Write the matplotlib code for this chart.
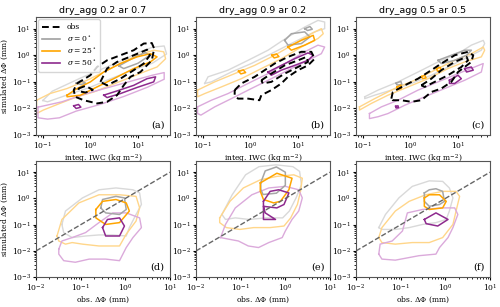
import numpy as np
import matplotlib
matplotlib.use("Agg")
import matplotlib.pyplot as plt

plt.rcParams["font.family"] = "DejaVu Serif"
plt.rcParams["mathtext.fontset"] = "dejavuserif"

# contour outlines, as (log10 x, log10 y) points
titles = ["dry_agg 0.2 ar 0.7", "dry_agg 0.9 ar 0.2", "dry_agg 0.5 ar 0.5"]
letters = ["(a)", "(b)", "(c)", "(d)", "(e)", "(f)"]
legend_labels = ["obs", r"$\sigma = 0^\circ$", r"$\sigma = 25^\circ$", r"$\sigma = 50^\circ$"]

# ---- panel (a)
a_obs = [(-0.28, -1.06), (0.0, -0.75), (0.14, -0.44), (0.35, -0.19), (0.63, 0.0), (0.91, 0.19),
         (1.12, 0.44), (1.29, 0.46), (1.34, 0.25), (1.29, -0.19), (1.05, -0.63), (0.84, -0.81),
         (0.7, -1.13), (0.56, -1.5), (0.35, -1.75), (0.14, -1.81), (-0.14, -1.69), (-0.32, -1.56),
         (-0.35, -1.31)]
a_obs_in = [(0.21, -1.0), (0.35, -0.5), (0.56, -0.25), (0.91, 0.0), (1.19, 0.21), (1.25, 0.0),
            (1.12, -0.31), (0.91, -0.56), (0.63, -0.88), (0.35, -1.13)]
a_obs_sm = [(-0.25, -1.25), (-0.1, -1.15), (0.05, -1.3), (-0.1, -1.4), (-0.25, -1.35)]
a_g_out = [(-1.0, -1.7), (-0.8, -1.35), (-0.5, -1.1), (-0.2, -0.85), (0.2, -0.55), (0.6, -0.25),
           (1.0, 0.1), (1.3, 0.3), (1.55, 0.35), (1.6, 0.05), (1.3, -0.3), (0.9, -0.55),
           (0.4, -0.9), (0.0, -1.2), (-0.5, -1.5), (-0.9, -1.75)]
a_g_in = [(0.6, -0.4), (0.9, -0.1), (1.15, 0.1), (1.25, 0.0), (1.0, -0.3), (0.7, -0.5)]
a_g_sm = [(-0.3, -1.05), (-0.2, -0.95), (-0.1, -1.05), (-0.2, -1.1)]
a_o_out = [(-1.13, -1.69), (-0.85, -1.44), (-0.49, -1.25), (-0.07, -0.94), (0.28, -0.63),
           (0.63, -0.31), (0.98, 0.0), (1.33, 0.19), (1.54, 0.13), (1.58, -0.13), (1.4, -0.44),
           (1.12, -0.63), (0.77, -0.88), (0.42, -1.13), (0.07, -1.38), (-0.28, -1.56),
           (-0.64, -1.81), (-0.99, -2.06), (-1.13, -2.19)]
a_o_in = [(-0.49, -1.5), (-0.28, -1.25), (0.0, -1.0), (0.28, -0.63), (0.63, -0.31), (0.98, -0.06),
          (1.26, 0.06), (1.4, -0.06), (1.26, -0.25), (0.91, -0.5), (0.49, -0.88), (0.14, -1.19),
          (-0.21, -1.5), (-0.49, -1.56)]
a_p_out = [(-1.1, -1.95), (-0.6, -1.75), (-0.1, -1.45), (0.4, -1.2), (0.9, -0.95), (1.3, -0.75),
           (1.55, -0.65), (1.55, -0.9), (1.2, -1.2), (0.7, -1.55), (0.2, -1.85), (-0.3, -2.1),
           (-0.65, -2.35), (-0.9, -2.4), (-1.1, -2.35)]
a_p_in = [(0.28, -1.5), (0.56, -1.34), (0.91, -1.13), (1.19, -0.88), (1.37, -0.81), (1.33, -1.0),
          (0.98, -1.21), (0.63, -1.44), (0.35, -1.59)]
a_p_sm = [(-0.35, -1.9), (-0.25, -1.85), (-0.2, -1.95), (-0.3, -2.0)]

# ---- panel (b)
b_obs = [(-0.33, -1.31), (-0.19, -1.06), (0.09, -0.81), (0.30, -0.56), (0.51, -0.31), (0.79, -0.06),
         (1.07, 0.13), (1.28, 0.13), (1.35, -0.13), (1.21, -0.38), (1.0, -0.56), (0.79, -0.81),
         (0.65, -1.06), (0.44, -1.31), (0.23, -1.5), (0.19, -1.69), (-0.05, -1.63), (-0.26, -1.63),
         (-0.33, -1.5)]
b_obs_in = [(0.23, -0.94), (0.44, -0.69), (0.72, -0.38), (1.0, -0.19), (1.18, -0.06), (1.21, -0.25),
            (1.0, -0.44), (0.72, -0.69), (0.44, -1.0), (0.26, -1.06)]
b_g_out = [(-0.96, -1.06), (-0.89, -0.81), (-0.47, -0.56), (-0.05, -0.19), (0.37, 0.19), (0.79, 0.69),
           (1.14, 1.06), (1.42, 1.31), (1.56, 1.25), (1.56, 1.0), (1.35, 0.88), (1.07, 0.63),
           (0.79, 0.38), (0.44, 0.06), (0.02, -0.31), (-0.40, -0.63), (-0.82, -1.0)]
b_g_in = [(0.72, 0.56), (0.86, 0.81), (1.14, 0.88), (1.25, 0.69), (1.07, 0.44), (0.79, 0.38)]
b_g_sm = [(1.14, 1.0), (1.25, 1.08), (1.3, 0.98), (1.2, 0.93)]
b_o_out = [(-1.11, -1.31), (-0.75, -1.0), (-0.33, -0.69), (0.09, -0.38), (0.51, 0.0), (0.93, 0.44),
           (1.28, 0.81), (1.49, 1.0), (1.53, 0.81), (1.42, 0.63), (1.07, 0.31), (0.65, -0.13),
           (0.23, -0.5), (-0.19, -0.88), (-0.61, -1.19), (-0.96, -1.44), (-1.11, -1.56)]
b_o_in = [(0.79, 0.31), (1.07, 0.56), (1.32, 0.75), (1.35, 0.56), (1.14, 0.38), (0.86, 0.19)]
b_o_sm = [(0.45, 0.0), (0.55, 0.05), (0.6, -0.05), (0.5, -0.1)]
b_o_sm2 = [(-0.25, -0.6), (-0.15, -0.55), (-0.1, -0.65), (-0.2, -0.7)]
b_p_out = [(-1.11, -1.94), (-0.82, -1.69), (-0.47, -1.44), (-0.05, -1.06), (0.37, -0.69),
           (0.79, -0.25), (1.14, 0.13), (1.42, 0.38), (1.56, 0.31), (1.49, 0.06), (1.21, -0.19),
           (0.86, -0.5), (0.44, -0.88), (0.02, -1.25), (-0.40, -1.63), (-0.75, -1.94),
           (-1.04, -2.25), (-1.11, -2.19)]
b_p_in = [(0.37, -0.63), (0.65, -0.38), (0.93, -0.13), (1.21, 0.09), (1.32, 0.0), (1.21, -0.19),
          (0.93, -0.38), (0.65, -0.56), (0.44, -0.75)]

# ---- panel (c)
c_obs = [(-0.40, -1.63), (-0.37, -1.38), (-0.12, -1.13), (0.16, -0.88), (0.44, -0.56), (0.65, -0.31),
         (0.93, 0.0), (1.21, 0.13), (1.32, 0.0), (1.28, -0.25), (1.14, -0.44), (1.0, -0.63),
         (0.86, -1.0), (0.65, -1.25), (0.44, -1.38), (0.23, -1.69), (0.02, -1.75), (-0.19, -1.69),
         (-0.37, -1.69)]
c_obs_in = [(0.23, -1.13), (0.44, -0.88), (0.65, -0.56), (0.93, -0.25), (1.18, -0.06), (1.21, -0.19),
            (1.07, -0.44), (0.79, -0.75), (0.51, -1.0), (0.30, -1.19)]
c_g_out = [(-0.96, -1.56), (-0.68, -1.31), (-0.26, -1.0), (0.16, -0.63), (0.58, -0.25), (1.0, 0.06),
           (1.28, 0.38), (1.53, 0.56), (1.56, 0.44), (1.49, 0.19), (1.21, -0.06), (0.86, -0.38),
           (0.44, -0.75), (0.02, -1.06), (-0.40, -1.31), (-0.75, -1.5), (-0.96, -1.63)]
c_g_in = [(0.58, -0.19), (0.86, 0.0), (1.14, 0.19), (1.28, 0.19), (1.18, 0.0), (0.93, -0.19),
          (0.65, -0.31)]
c_g_sm = [(-0.3, -1.05), (-0.2, -0.98), (-0.18, -1.1), (-0.28, -1.12)]
c_o_out = [(-1.07, -1.94), (-0.75, -1.63), (-0.33, -1.25), (0.09, -0.94), (0.51, -0.56),
           (0.93, -0.19), (1.28, 0.06), (1.53, 0.31), (1.56, 0.19), (1.49, -0.06), (1.14, -0.25),
           (0.79, -0.5), (0.37, -0.88), (-0.05, -1.19), (-0.47, -1.5), (-0.82, -1.81),
           (-1.07, -2.06)]
c_o_sm1 = [(-0.28, -1.19), (-0.2, -1.12), (-0.19, -1.25), (-0.27, -1.28)]
c_o_sm2 = [(0.23, -0.8), (0.3, -0.75), (0.33, -0.85), (0.26, -0.88)]
c_o_sm3 = [(0.55, -0.5), (0.62, -0.45), (0.65, -0.55), (0.57, -0.6)]
c_p_out = [(-0.86, -2.19), (-0.61, -1.94), (-0.26, -1.69), (0.16, -1.31), (0.58, -1.0), (1.0, -0.69),
           (1.35, -0.44), (1.53, -0.31), (1.49, -0.63), (1.14, -0.94), (0.72, -1.25), (0.30, -1.56),
           (-0.12, -1.88), (-0.47, -2.19), (-0.68, -2.31), (-0.86, -2.38)]
c_p_in = [(0.82, -0.94), (1.0, -0.75), (1.07, -0.88), (0.93, -1.06), (0.82, -1.06)]
c_p_in2 = [(1.14, -0.5), (1.28, -0.44), (1.32, -0.56), (1.18, -0.63)]
c_p_sm = [(-0.31, -1.92), (-0.26, -1.9), (-0.25, -1.97), (-0.3, -1.98)]

# ---- panel (d)
d_g_out = [(-1.42, -0.99), (-1.34, -0.48), (-0.96, 0.02), (-0.59, 0.33), (-0.21, 0.40), (0.17, 0.33),
           (0.32, 0.21), (0.36, -0.23), (0.24, -0.61), (0.09, -1.11), (0.02, -1.43), (-0.28, -1.39),
           (-0.59, -1.39), (-0.89, -1.43), (-1.19, -1.49), (-1.38, -1.30)]
d_g_in = [(-0.55, -0.36), (-0.51, -0.04), (-0.21, 0.08), (-0.02, 0.02), (0.02, -0.42),
          (-0.13, -0.61), (-0.44, -0.55)]
d_o_out = [(-1.53, -1.43), (-1.42, -0.80), (-1.04, -0.17), (-0.59, 0.14), (-0.13, 0.14), (0.24, 0.08),
           (0.32, -0.36), (0.24, -0.86), (0.02, -1.36), (-0.13, -1.81), (-0.59, -1.81),
           (-0.96, -1.74), (-1.19, -1.68), (-1.34, -1.74), (-1.49, -1.62)]
d_o_in = [(-0.66, -0.42), (-0.51, -0.11), (-0.21, -0.04), (0.02, -0.17), (0.09, -0.48),
          (-0.13, -0.92), (-0.44, -0.99), (-0.66, -0.74)]
d_p_out = [(-1.49, -1.93), (-1.42, -1.62), (-1.19, -1.49), (-0.89, -1.30), (-0.59, -0.92),
           (-0.28, -0.55), (0.02, -0.55), (0.32, -0.74), (0.36, -1.11), (0.17, -1.49),
           (0.02, -1.87), (-0.13, -2.37), (-0.44, -2.31), (-0.81, -2.31), (-1.12, -2.43),
           (-1.38, -2.37), (-1.49, -2.12)]
d_p_in = [(-0.51, -1.11), (-0.40, -0.80), (-0.13, -0.74), (-0.02, -1.05), (-0.13, -1.43),
          (-0.44, -1.43)]

# ---- panel (e)
e_g_out = [(-1.42, -0.61), (-1.19, 0.14), (-0.89, 0.90), (-0.59, 1.21), (-0.21, 1.28), (0.17, 1.21),
           (0.32, 1.03), (0.36, 0.52), (0.24, 0.02), (0.09, -0.48), (-0.06, -0.74), (-0.44, -0.74),
           (-0.81, -0.80), (-1.12, -0.74), (-1.34, -0.80)]
e_g_in = [(-0.55, 0.6), (-0.45, 1.05), (-0.2, 1.2), (0.0, 1.0), (0.0, 0.5), (-0.2, 0.2),
          (-0.5, 0.15), (-0.55, 0.35)]
e_o_out = [(-1.47, -0.74), (-1.24, -0.11), (-0.94, 0.40), (-0.56, 0.71), (-0.19, 0.84), (0.19, 0.90),
           (0.38, 0.77), (0.34, 0.27), (0.27, -0.23), (0.12, -0.74), (-0.03, -1.05), (-0.34, -1.11),
           (-0.71, -1.11), (-1.02, -1.18), (-1.32, -1.11), (-1.47, -0.92)]
e_o_in = [(-0.56, 0.59), (-0.19, 0.96), (0.15, 0.77), (0.08, 0.33), (-0.11, -0.11), (-0.26, -0.17),
          (-0.49, -0.04), (-0.56, 0.27)]
e_p_out = [(-1.45, -1.49), (-1.34, -0.99), (-1.12, -0.36), (-0.75, 0.14), (-0.37, 0.40), (0.0, 0.46),
           (0.30, 0.33), (0.38, 0.02), (0.30, -0.48), (0.15, -0.80), (0.0, -1.24), (-0.07, -1.49),
           (-0.37, -1.68), (-0.60, -1.87), (-0.83, -1.81), (-1.05, -1.62), (-1.27, -1.55)]
e_p_in = [(-0.49, -0.11), (-0.34, 0.27), (-0.15, 0.33), (0.08, 0.21), (-0.03, -0.23), (-0.19, -0.36),
          (-0.49, -0.30), (-0.45, -0.55), (-0.22, -0.80), (-0.49, -0.80), (-0.49, -0.55)]

# ---- panel (f)
f_g_out = [(-1.49, -1.11), (-1.34, -0.61), (-1.04, 0.02), (-0.74, 0.46), (-0.36, 0.67), (-0.06, 0.65),
           (0.09, 0.40), (0.17, 0.02), (0.09, -0.48), (0.02, -0.80), (-0.21, -0.92), (-0.51, -0.99),
           (-0.81, -1.11), (-1.12, -1.18), (-1.42, -1.18)]
f_g_in = [(-0.47, 0.21), (-0.36, 0.33), (-0.21, 0.37), (-0.06, 0.27), (-0.02, -0.11), (-0.13, -0.23),
          (-0.36, -0.30), (-0.47, -0.11)]
f_o_out = [(-1.49, -1.49), (-1.42, -1.11), (-1.12, -0.48), (-0.81, -0.11), (-0.44, 0.14), (-0.06, 0.27),
           (0.24, 0.27), (0.32, 0.08), (0.24, -0.48), (0.17, -0.99), (-0.06, -1.49), (-0.36, -1.68),
           (-0.74, -1.68), (-1.12, -1.74), (-1.42, -1.68)]
f_o_in = [(-0.47, 0.02), (-0.36, 0.14), (-0.13, 0.14), (0.02, -0.11), (-0.06, -0.36), (-0.36, -0.42),
          (-0.47, -0.30)]
f_p_out = [(-1.49, -2.12), (-1.46, -1.74), (-1.19, -1.62), (-0.96, -1.24), (-0.85, -0.55),
           (-0.51, -0.42), (-0.06, -0.36), (0.21, -0.36), (0.28, -0.61), (0.17, -1.11), (0.06, -1.49),
           (-0.13, -1.87), (-0.21, -2.12), (-0.59, -2.18), (-1.12, -2.35), (-1.42, -2.31)]
f_p_in = [(-0.47, -0.80), (-0.21, -0.55), (0.06, -0.80), (-0.17, -1.05), (-0.43, -0.96)]

one_to_one = [1e-2, 1e1]

grey_dk, grey_lt = "#a6a6a6", "#d9d9d9"
orange_dk, orange_lt = "#ffa500", "#ffd68a"
purple_dk, purple_lt = "#8e2a8e", "#dbaadb"


def draw(ax, pts, color, lw=1.0, ls="-"):
    pts = np.array(pts + [pts[0]])
    ax.plot(10 ** pts[:, 0], 10 ** pts[:, 1], color=color, lw=lw, ls=ls)


fig = plt.figure(figsize=(5.0, 3.07), dpi=100)
lefts = [0.072, 0.392, 0.712]
w = 0.268
top_axes = [fig.add_axes([l, 0.560, w, 0.384]) for l in lefts]
bot_axes = [fig.add_axes([l, 0.097, w, 0.379]) for l in lefts]

top_sets = [
    (a_g_out, [a_g_in, a_g_sm], a_o_out, [a_o_in], a_p_out, [a_p_in, a_p_sm], [a_obs, a_obs_in, a_obs_sm]),
    (b_g_out, [b_g_in, b_g_sm], b_o_out, [b_o_in, b_o_sm, b_o_sm2], b_p_out, [b_p_in], [b_obs, b_obs_in]),
    (c_g_out, [c_g_in, c_g_sm], c_o_out, [c_o_sm1, c_o_sm2, c_o_sm3], c_p_out, [c_p_in, c_p_in2, c_p_sm],
     [c_obs, c_obs_in]),
]
bot_sets = [
    (d_g_out, [d_g_in], d_o_out, [d_o_in], d_p_out, [d_p_in], []),
    (e_g_out, [e_g_in], e_o_out, [e_o_in], e_p_out, [e_p_in], []),
    (f_g_out, [f_g_in], f_o_out, [f_o_in], f_p_out, [f_p_in], []),
]

for i, (ax, s) in enumerate(zip(top_axes + bot_axes, top_sets + bot_sets)):
    g_out, g_in, o_out, o_in, p_out, p_in, obs = s
    draw(ax, g_out, grey_lt)
    draw(ax, o_out, orange_lt)
    draw(ax, p_out, purple_lt)
    for c in g_in:
        draw(ax, c, grey_dk, lw=1.1)
    for c in o_in:
        draw(ax, c, orange_dk, lw=1.1)
    for c in p_in:
        draw(ax, c, purple_dk, lw=1.1)
    for c in obs:
        draw(ax, c, "k", lw=1.4, ls=(0, (3.5, 2)))
    ax.set_xscale("log")
    ax.set_yscale("log")
    ax.set_ylim(1e-3, 27)
    if i < 3:
        ax.set_xlim(0.072, 47)
        ax.set_title(titles[i], fontsize=6.8, family="DejaVu Sans", pad=3)
        ax.set_xlabel(r"integ. IWC (kg m$^{-2}$)", fontsize=5.5, labelpad=0.5)
    else:
        ax.set_xlim(1e-2, 1e1)
        ax.plot(one_to_one, one_to_one, ls="--", color="#666666", lw=1.0)
        ax.set_xlabel(r"obs. $\Delta\Phi$ (mm)", fontsize=5.5, labelpad=0.5)
    ax.set_yticks([1e-3, 1e-2, 1e-1, 1e0, 1e1])
    ax.tick_params(labelsize=5.5, length=2.5, pad=1.2)
    ax.tick_params(which="minor", length=1.2)
    ax.text(0.96, 0.05, letters[i], transform=ax.transAxes, ha="right", va="bottom", fontsize=7)
    for sp in ax.spines.values():
        sp.set_color("#555555")

top_axes[0].set_ylabel(r"simulated $\Delta\Phi$ (mm)", fontsize=5.5, labelpad=1)
bot_axes[0].set_ylabel(r"simulated $\Delta\Phi$ (mm)", fontsize=5.5, labelpad=1)

handles = [plt.Line2D([], [], color="k", lw=1.4, ls=(0, (3.5, 2))),
           plt.Line2D([], [], color="#a0a0a0", lw=1.2),
           plt.Line2D([], [], color=orange_dk, lw=1.2),
           plt.Line2D([], [], color=purple_dk, lw=1.2)]
top_axes[0].legend(handles, legend_labels, loc="upper left", fontsize=5.5, frameon=True,
                   handlelength=2.4, borderpad=0.5, labelspacing=0.35, borderaxespad=0.3)

fig.savefig("out.png", dpi=100)
